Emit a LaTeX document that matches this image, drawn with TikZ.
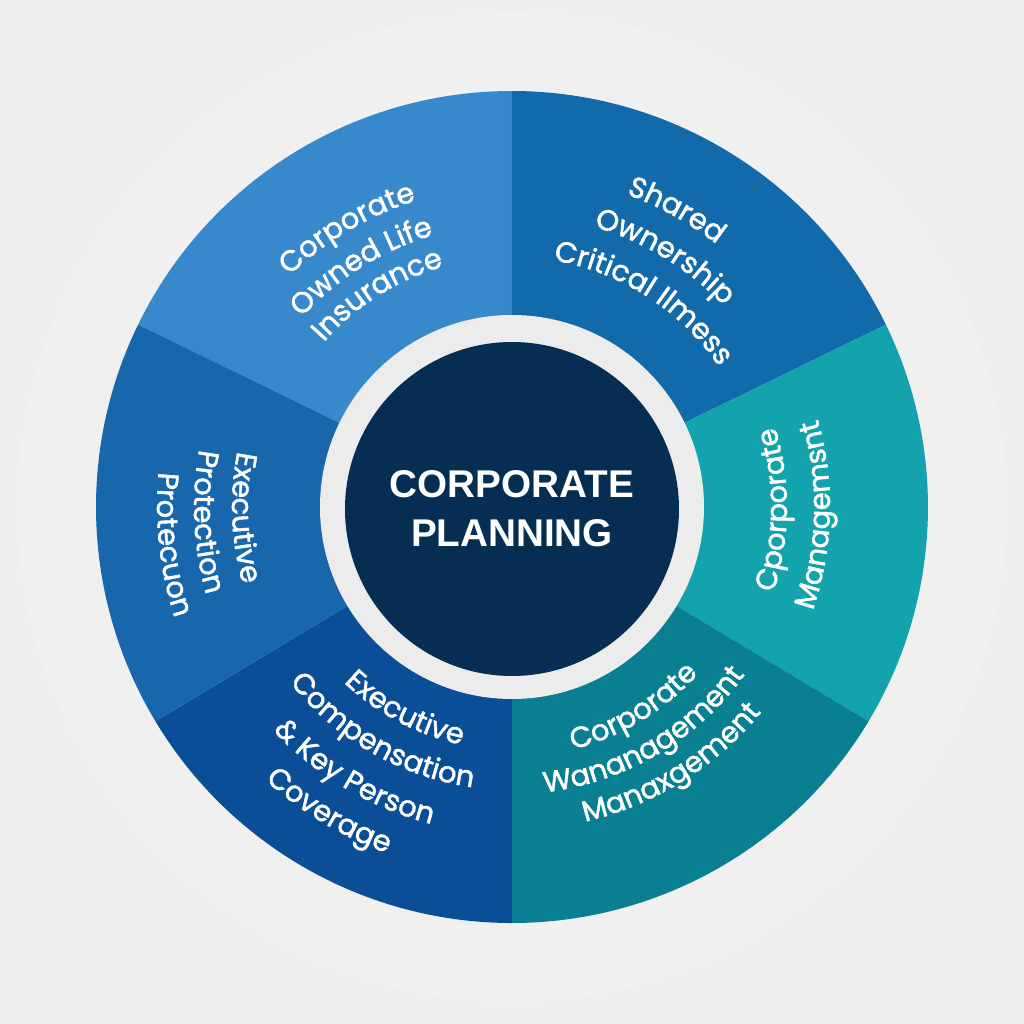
\documentclass[tikz,border=0pt]{standalone}
\usepackage{fontspec}
\setmainfont{Liberation Sans}
\newfontfamily\segface[FakeBold=1.6]{Poppins}
\usetikzlibrary{decorations.text}

\definecolor{bgcol}{HTML}{EEEEEE}
\definecolor{halocol}{HTML}{F0F0F0}
\definecolor{ringcol}{HTML}{ECECEC}
\definecolor{hubblue}{HTML}{062E52}
\definecolor{lifeblue}{HTML}{3889CC}
\definecolor{sharedblue}{HTML}{126AAA}
\definecolor{mgmtteal}{HTML}{13A3AD}
\definecolor{wanateal}{HTML}{088091}
\definecolor{compblue}{HTML}{0A4E98}
\definecolor{protblue}{HTML}{1866AC}

\newcommand{\segtext}{\segface\fontsize{16.5}{19}\selectfont\color{white}}
% one line of text on a circle round the hub: mid angle, radius, text
\newcommand{\cwline}[3]{%
  \path[decorate, decoration={text along path, text align=center,
        text={|\segtext|#3}}]
    (#1+45:#2) arc[start angle=#1+45, end angle=#1-45, radius=#2];}
\newcommand{\ccwline}[3]{%
  \path[decorate, decoration={text along path, text align=center,
        text={|\segtext|#3}}]
    (#1-45:#2) arc[start angle=#1-45, end angle=#1+45, radius=#2];}

\begin{document}
\begin{tikzpicture}[wedge/.style={draw=none},
                    hub/.style={circle, fill=hubblue, text=white, align=center,
                                font=\bfseries\fontsize{22}{28}\selectfont,
                                minimum size=6.68cm, inner sep=0pt}]
  \useasboundingbox (-10.24,-10.34) rectangle (10.24,10.14);
  \fill[bgcol] (-10.24,-10.34) rectangle (10.24,10.14);
  \fill[halocol] (0,0) circle (9.9);

  % wheel
  \fill[wedge, lifeblue]   (0,0) -- (154:8.32) arc[start angle=154, end angle=90, radius=8.32] -- cycle;
  \fill[wedge, sharedblue] (0,0) -- (90:8.32) arc[start angle=90, end angle=26, radius=8.32] -- cycle;
  \fill[wedge, mgmtteal]   (0,0) -- (26:8.32) arc[start angle=26, end angle=-31, radius=8.32] -- cycle;
  \fill[wedge, wanateal]   (0,0) -- (-31:8.32) arc[start angle=-31, end angle=-90, radius=8.32] -- cycle;
  \fill[wedge, compblue]   (0,0) -- (270:8.32) arc[start angle=270, end angle=211, radius=8.32] -- cycle;
  \fill[wedge, protblue]   (0,0) -- (211:8.32) arc[start angle=211, end angle=154, radius=8.32] -- cycle;

  \fill[ringcol] (0,0) circle (3.84);
  \node[hub] (core) at (0,-0.04) {CORPORATE\\PLANNING};

  % top left
  \cwline{120.6}{6.42}{Corporate}
  \cwline{122}{5.66}{Owned Life}
  \cwline{122.3}{5.0}{Insurance}
  % top right
  \cwline{61}{6.66}{Shared}
  \cwline{58.6}{5.84}{Ownership}
  \cwline{57.3}{5.0}{Critical Ilmess}
  % right
  \ccwline{-0.6}{5.5}{Cporporate}
  \ccwline{-1.5}{6.36}{Managemsnt}
  % bottom right
  \ccwline{-58.8}{5.0}{Corporate}
  \ccwline{-59.6}{5.74}{Wananagement}
  \ccwline{-58.2}{6.46}{Manaxgement}
  % bottom left
  \ccwline{242.1}{4.86}{Executive}
  \ccwline{240.1}{5.66}{Compensation}
  \ccwline{239.4}{6.54}{{\&} Key Person}
  \ccwline{239}{7.36}{Coverage}
  % left
  \ccwline{182.3}{5.6}{Executive}
  \ccwline{182.8}{6.36}{Protection}
  \ccwline{186.3}{7.1}{Protecuon}
\end{tikzpicture}
\end{document}
